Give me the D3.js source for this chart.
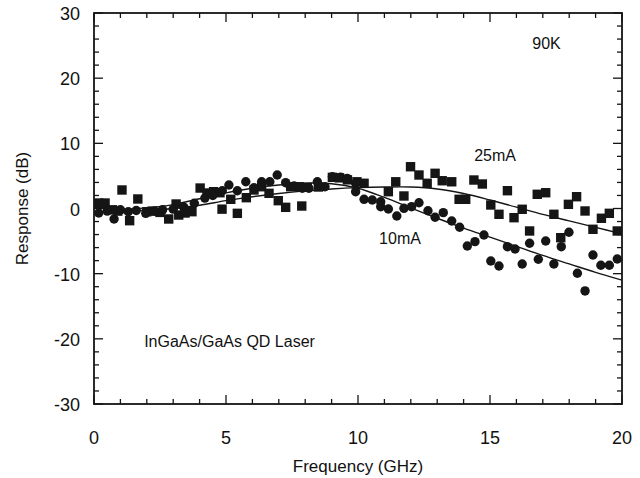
<!DOCTYPE html>
<html>
<head>
<meta charset="utf-8">
<script src="https://cdn.jsdelivr.net/npm/d3@7"></script>
<style>
  body { margin: 0; background: #fff; }
  text { font-family: "Liberation Sans", Arial, sans-serif; fill: #111; }
</style>
</head>
<body>
<svg class="chart"></svg>
<script>
const width = 640;
const height = 478;
const margin = { top: 13, right: 18, bottom: 74, left: 94 };

// measured points, 25 mA (squares)
const freq25 = [0.18, 0.42, 0.7, 0.9, 1.06, 1.35, 1.66, 2.0, 2.2, 2.5, 2.83, 3.11, 3.21, 3.45, 3.71,
  4.02, 4.28, 4.53, 4.77, 4.85, 5.18, 5.43, 5.77, 6.06, 6.35, 6.63, 6.98, 7.26, 7.45, 7.77, 7.87,
  8.08, 8.5, 9.03, 9.3, 9.6, 9.96, 10.23, 11.15, 11.43, 11.74, 11.99, 12.31, 12.62, 12.92, 13.19,
  13.55, 13.83, 14.08, 14.39, 14.71, 15.03, 15.34, 15.66, 15.91, 16.22, 16.5, 16.79, 17.11, 17.42,
  17.68, 17.97, 18.28, 18.6, 18.9, 19.22, 19.52, 19.82];
const resp25 = [0.84, 0.84, -0.2, -0.4, 2.84, -1.87, 1.46, -0.5, -0.4, -0.6, -1.61, 0.69, -1.0, -0.69, -0.49,
  3.14, 2.38, 2.58, 2.42, -0.1, 1.41, -0.74, 1.66, 2.84, 3.34, 2.33, 1.2, 0.18, 3.34, 3.34, 0.38,
  3.25, 3.3, 4.78, 4.7, 4.4, 4.1, 3.87, 2.58, 4.1, 1.92, 6.41, 5.14, 3.87, 5.4, 4.26,
  4.1, 1.41, 1.41, 4.37, 3.76, 0.54, -0.89, 2.73, -1.41, -0.12, -3.45, 2.18, 2.42, -0.89,
  -4.48, 0.64, 1.81, -0.38, -3.19, -1.5, -0.74, -3.45];

// measured points, 10 mA (circles)
const freq10 = [0.18, 0.5, 0.76, 1.0, 1.3, 1.6, 1.96, 2.3, 2.6, 3.0, 3.4, 3.8, 4.2, 4.5, 4.86, 5.11,
  5.43, 5.75, 6.06, 6.35, 6.66, 6.94, 7.26, 7.58, 7.89, 8.14, 8.46, 8.75, 9.03, 9.34, 9.59, 9.91,
  9.91, 10.23, 10.54, 10.86, 10.86, 11.15, 11.47, 11.74, 12.03, 12.31, 12.65, 12.92, 13.23, 13.55,
  13.85, 14.14, 14.43, 14.77, 15.03, 15.34, 15.66, 15.95, 16.22, 16.5, 16.83, 17.11, 17.42, 17.7,
  17.99, 18.31, 18.6, 18.9, 19.2, 19.52, 19.82];
const resp10 = [-0.69, -0.4, -1.61, -0.2, -0.5, -0.3, -0.74, -0.4, -0.2, -0.1, 0.2, 0.8, 1.6, 2.0, 2.73, 3.6,
  2.73, 4.11, 3.19, 4.11, 4.11, 5.14, 3.96, 3.45, 3.1, 3.1, 4.11, 3.34, 4.88, 4.79, 4.63, 3.87,
  2.58, 1.41, 1.3, 1.04, 0.28, -0.08, -1.15, 0.03, 0.28, 0.89, -0.34, -1.35, -0.64, -1.92,
  -2.88, -5.75, -5.09, -4.06, -8.05, -8.82, -5.86, -6.21, -8.51, -5.34, -7.79, -4.98, -8.51, -5.86,
  -3.65, -9.94, -12.65, -7.13, -8.71, -8.71, -7.75];

// fitted curves
const fitFreq = [0, 1, 2, 3, 4, 5, 6, 7, 8, 9, 10, 11, 12, 13, 14, 15, 16, 17, 18, 19, 20];
const fit25 = [0.2, -0.2, -0.3, 0.0, 0.5, 1.2, 1.8, 2.3, 2.7, 3.0, 3.2, 3.3, 3.3, 3.0, 2.3, 1.3, 0.2, -0.9, -1.9, -2.9, -3.9];
const fit10 = [0.3, -0.1, 0.1, 0.6, 1.5, 2.4, 3.1, 3.6, 3.9, 3.8, 3.1, 1.7, 0.1, -1.5, -3.0, -4.4, -5.8, -7.2, -8.5, -9.8, -11.0];

const xTicks = [0, 5, 10, 15, 20];
const yTicks = [30, 20, 10, 0, -10, -20, -30];

const svg = d3.select('.chart').attr('width', width).attr('height', height);

const x = d3.scaleLinear().domain([0, 20]).range([margin.left, width - margin.right]);
const y = d3.scaleLinear().domain([-30, 30]).range([height - margin.bottom, margin.top]);

svg.append('clipPath').attr('id', 'clip').append('rect')
  .attr('x', x(0)).attr('y', y(30)).attr('width', x(20) - x(0)).attr('height', y(-30) - y(30));

const ink = '#151515';

// inward ticks on all four sides
const minorX = d3.range(0, 21, 1);
const minorY = d3.range(-30, 31, 2);
function tickLen(v, step) { return v % step === 0 ? 9 : 5; }

svg.append('g').selectAll('line').data(minorX).join('line')
  .attr('x1', d => x(d)).attr('x2', d => x(d))
  .attr('y1', y(-30)).attr('y2', d => y(-30) - tickLen(d, 5))
  .attr('stroke', ink).attr('stroke-width', 1.3);
svg.append('g').selectAll('line').data(minorX).join('line')
  .attr('x1', d => x(d)).attr('x2', d => x(d))
  .attr('y1', y(30)).attr('y2', d => y(30) + tickLen(d, 5))
  .attr('stroke', ink).attr('stroke-width', 1.3);
svg.append('g').selectAll('line').data(minorY).join('line')
  .attr('x1', x(0)).attr('x2', d => x(0) + tickLen(d, 10))
  .attr('y1', d => y(d)).attr('y2', d => y(d))
  .attr('stroke', ink).attr('stroke-width', 1.3);
svg.append('g').selectAll('line').data(minorY).join('line')
  .attr('x1', x(20)).attr('x2', d => x(20) - tickLen(d, 10))
  .attr('y1', d => y(d)).attr('y2', d => y(d))
  .attr('stroke', ink).attr('stroke-width', 1.3);

svg.append('rect')
  .attr('x', x(0)).attr('y', y(30))
  .attr('width', x(20) - x(0)).attr('height', y(-30) - y(30))
  .attr('fill', 'none').attr('stroke', ink).attr('stroke-width', 1.8);

// tick labels
svg.append('g').selectAll('text').data(xTicks).join('text')
  .attr('x', d => x(d)).attr('y', y(-30) + 40)
  .attr('text-anchor', 'middle').style('font-size', '18px')
  .text(d => d);
svg.append('g').selectAll('text').data(yTicks).join('text')
  .attr('x', x(0) - 14).attr('y', d => y(d) + 7)
  .attr('text-anchor', 'end').style('font-size', '18px')
  .text(d => d);

// axis titles
svg.append('text')
  .attr('x', (x(0) + x(20)) / 2).attr('y', 472)
  .attr('text-anchor', 'middle').style('font-size', '17px')
  .text('Frequency (GHz)');
svg.append('text')
  .attr('transform', `translate(28,${y(0)}) rotate(-90)`)
  .attr('text-anchor', 'middle').style('font-size', '17px')
  .text('Response (dB)');

// fitted lines
const line = d3.line()
  .x(d => x(d[0])).y(d => y(d[1]))
  .curve(d3.curveCatmullRom.alpha(0.5));
const g = svg.append('g').attr('clip-path', 'url(#clip)');
g.append('path').datum(fitFreq.map((f, i) => [f, fit25[i]]))
  .attr('d', line).attr('fill', 'none').attr('stroke', ink).attr('stroke-width', 1.4);
g.append('path').datum(fitFreq.map((f, i) => [f, fit10[i]]))
  .attr('d', line).attr('fill', 'none').attr('stroke', ink).attr('stroke-width', 1.4);

// markers
g.selectAll('rect.sq').data(freq25.map((f, i) => [f, resp25[i]])).join('rect')
  .attr('class', 'sq')
  .attr('x', d => x(d[0]) - 4.7).attr('y', d => y(d[1]) - 4.7)
  .attr('width', 9.4).attr('height', 9.4)
  .attr('fill', ink);
g.selectAll('circle.dot').data(freq10.map((f, i) => [f, resp10[i]])).join('circle')
  .attr('class', 'dot')
  .attr('cx', d => x(d[0])).attr('cy', d => y(d[1]))
  .attr('r', 4.7)
  .attr('fill', ink);

// annotations
svg.append('text').attr('x', x(16.6)).attr('y', y(24.5))
  .style('font-size', '16px').text('90K');
svg.append('text').attr('x', x(14.4)).attr('y', y(7.3))
  .style('font-size', '16px').text('25mA');
svg.append('text').attr('x', x(10.8)).attr('y', y(-5.4))
  .style('font-size', '16px').text('10mA');
svg.append('text').attr('x', x(1.9)).attr('y', y(-21.2))
  .style('font-size', '16px').text('InGaAs/GaAs QD Laser');
</script>
</body>
</html>
